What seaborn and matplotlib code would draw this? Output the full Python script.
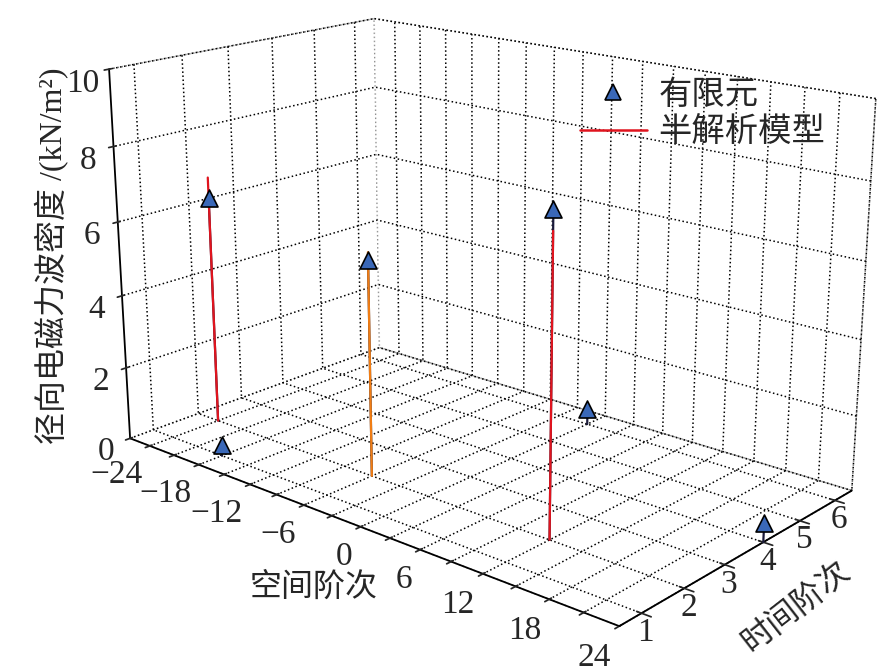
import numpy as np
import pandas as pd
import matplotlib
matplotlib.use("Agg")
import matplotlib.pyplot as plt
from matplotlib.lines import Line2D
import seaborn as sns

# === data ===
# spatial order / time order / amplitude (kN/m^2)
fea_space = [-24, -18, -6, 12, 0, 24]
fea_time = [2, 1, 2, 2, 6, 4]
fea_amp = [6.3, 0.3, 5.75, 8.1, 0.45, 0.5]

ana_space = [-24, -6, 12]
ana_time = [2, 2, 2]
ana_amp = [6.85, 5.95, 7.6]
ana_color = ["#e0141e", "#f07d14", "#e0141e"]

x_ticks = list(range(-24, 25, 3))
x_labels = [("\u2212" + str(-t) if t < 0 else str(t)) if t % 6 == 0 else "" for t in x_ticks]
y_ticks = [1, 2, 3, 4, 5, 6]
z_ticks = [0, 2, 4, 6, 8, 10]

fea = pd.DataFrame({"space": fea_space, "time": fea_time, "amp": fea_amp})
ana = pd.DataFrame({"space": ana_space, "time": ana_time, "amp": ana_amp, "color": ana_color})

# === style ===
sns.set_theme(style="white")
plt.rcParams["font.family"] = ["Liberation Serif", "Noto Sans CJK SC"]
plt.rcParams["grid.color"] = "black"
plt.rcParams["grid.linestyle"] = ":"
plt.rcParams["grid.linewidth"] = 1.1
plt.rcParams["axes.unicode_minus"] = True

fig = plt.figure(figsize=(8.84, 6.67), dpi=100)
ax = fig.add_axes([0.021, 0.0165, 1.02, 1.1], projection="3d")
ax.set_proj_type("persp", focal_length=0.5)
ax.view_init(elev=17.5, azim=-49)
ax.set_box_aspect((1.7, 1.0, 1.04), zoom=1.13)

for axis in (ax.xaxis, ax.yaxis, ax.zaxis):
    axis.pane.set_facecolor("white")
    axis.pane.set_edgecolor("black")
    axis.pane.set_linestyle(":")
    axis.pane.set_linewidth(1.1)
    axis.line.set_color("black")
    axis.line.set_linewidth(1.3)

ax.zaxis.set_ticks_position("lower")
ax.zaxis.set_label_position("lower")
ax.zaxis.set_rotate_label(False)
ax.yaxis.set_rotate_label(False)

ax.computed_zorder = False

# FEA stems + markers
for _, r in fea.iterrows():
    ax.plot([r.space, r.space], [r.time, r.time], [0, r.amp], color="#1a1a3a", lw=1.6, zorder=2)
# analytic model lines
for _, r in ana.iterrows():
    ax.plot([r.space, r.space], [r.time, r.time], [0, r.amp], color=r.color, lw=1.6, zorder=3)
ax.scatter(fea["space"], fea["time"], fea["amp"], marker="^", s=150,
           facecolor="#3a68b8", edgecolor="black", linewidths=1.2, depthshade=False, zorder=4)

ax.set_xlim(-26.5, 24)
ax.set_ylim(0.5, 6.5)
ax.set_zlim(0, 10)
ax.set_xticks(x_ticks)
ax.set_xticklabels(x_labels, ha="right")
ax.set_yticks(y_ticks)
ax.set_zticks(z_ticks)
ax.tick_params(labelsize=24, pad=2)
ax.xaxis.set_tick_params(pad=0)
ax.yaxis.set_tick_params(pad=-6)

ax.set_xlabel("空间阶次", fontsize=23, labelpad=14)
ax.set_ylabel("时间阶次", fontsize=23, labelpad=4, rotation=38)
ax.set_zlabel("径向电磁力波密度 /(kN/m²)", fontsize=23, labelpad=6, rotation=90)

handles = [
    Line2D([], [], marker="^", ls="none", markersize=12, markerfacecolor="#3a68b8",
           markeredgecolor="black", markeredgewidth=1.2, label="有限元"),
    Line2D([], [], color="#e0141e", lw=1.8, label="半解析模型"),
]
fig.legend(handles=handles, loc="upper left", bbox_to_anchor=(0.641, 0.9),
           frameon=False, fontsize=24, handlelength=2.0, handletextpad=0.35,
           labelspacing=0.2, borderaxespad=0)

fig.savefig("out.png", dpi=100)
